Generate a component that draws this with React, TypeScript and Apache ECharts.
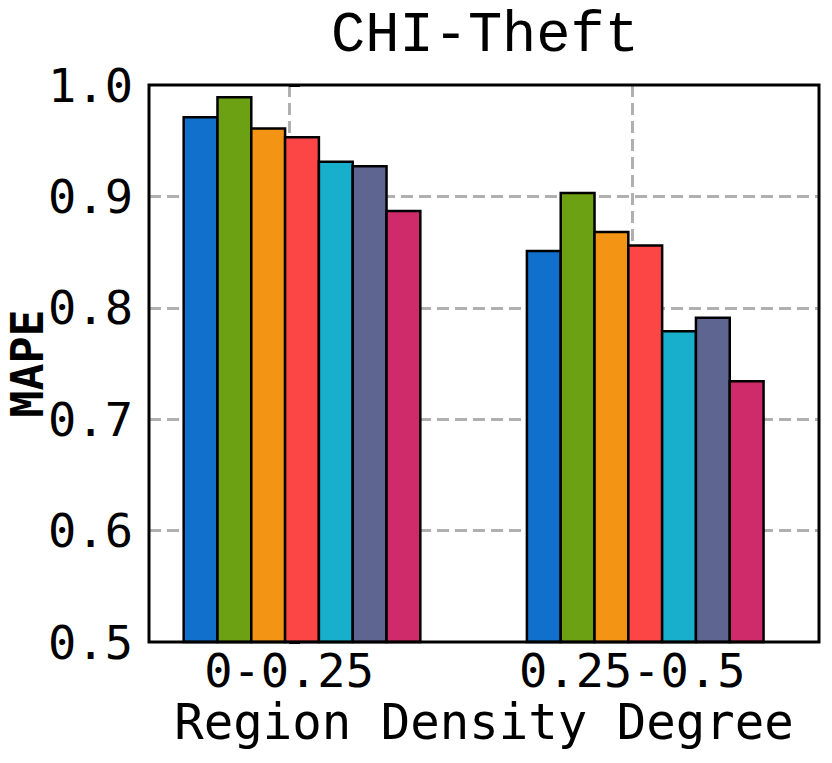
import React, { useEffect, useRef } from "react";
import * as echarts from "echarts";

const title = "CHI-Theft";
const categories = ["0-0.25", "0.25-0.5"];
const yTicks = [0.5, 0.6, 0.7, 0.8, 0.9, 1.0];
const seriesColors = ["#1170cc", "#6ba112", "#f39414", "#fc4646", "#17afcc", "#5e6590", "#cf2b6a"];
const s1 = [0.971, 0.851];
const s2 = [0.989, 0.903];
const s3 = [0.961, 0.868];
const s4 = [0.953, 0.856];
const s5 = [0.931, 0.779];
const s6 = [0.927, 0.791];
const s7 = [0.887, 0.734];
const seriesValues = [s1, s2, s3, s4, s5, s6, s7];

const BAR_W = 0.0985;
const GROUP_START = -0.307;
const Y_MIN = yTicks[0];
const Y_MAX = yTicks[yTicks.length - 1];

export default function App() {
  const ref = useRef<HTMLDivElement>(null);
  useEffect(() => {
    if (!ref.current) return;
    document.body.style.margin = "0";
    const chart = echarts.init(ref.current, null, { renderer: "svg" });
    const monoFont = "DejaVu Sans Mono";
    const series: any[] = seriesValues.map((vals, si) => ({
      type: "custom",
      name: "s" + (si + 1),
      data: vals.map((v, ci) => [ci, v]),
      encode: { x: 0, y: 1 },
      z: 5,
      renderItem: (params: any, api: any) => {
        const ci = api.value(0);
        const v = api.value(1);
        const x0 = ci + GROUP_START + si * BAR_W;
        const p1 = api.coord([x0, v]);
        const p2 = api.coord([x0 + BAR_W, Y_MIN]);
        return {
          type: "rect",
          shape: { x: p1[0], y: p1[1], width: p2[0] - p1[0], height: p2[1] - p1[1] },
          style: { fill: seriesColors[si], stroke: "#000", lineWidth: 2.5 },
        };
      },
    }));
    chart.setOption({
      animation: false,
      backgroundColor: "#fff",
      title: {
        text: title,
        left: 480,
        textAlign: "center",
        top: 2,
        textStyle: { fontFamily: "Liberation Mono", fontSize: 57, fontWeight: "normal", color: "#000" },
      },
      grid: {
        left: 149,
        right: 13,
        top: 85,
        bottom: 121,
        containLabel: false,
        outerBoundsMode: "none",
        show: true,
        borderColor: "#000",
        borderWidth: 3,
        backgroundColor: "transparent",
        z: 10,
      },
      xAxis: {
        type: "value",
        min: -0.408,
        max: 1.544,
        name: "Region Density Degree",
        nameLocation: "middle",
        nameGap: 56,
        nameMoveOverlap: false,
        nameTextStyle: { fontFamily: monoFont, fontSize: 49, color: "#000", lineHeight: 49 },
        axisLine: { show: false },
        axisTick: { show: false, customValues: [0, 1] },
        axisLabel: {
          customValues: [0, 1],
          formatter: (v: number) => categories[Math.round(v)] ?? "",
          fontFamily: monoFont,
          fontSize: 47,
          lineHeight: 46,
          color: "#000",
          margin: 5,
        },
        splitLine: {
          show: true,
          lineStyle: { color: "#b0b0b0", width: 3, type: [12, 6] },
        },
      },
      yAxis: {
        type: "value",
        min: Y_MIN,
        max: Y_MAX,
        interval: 0.1,
        name: "MAPE",
        nameLocation: "middle",
        nameGap: 101,
        nameMoveOverlap: false,
        nameRotate: 90,
        nameTextStyle: { fontFamily: monoFont, fontSize: 45, fontWeight: "bold", color: "#000", lineHeight: 42 },
        axisLine: { show: false },
        axisTick: { show: true, inside: true, length: 11, lineStyle: { color: "#000", width: 3 } },
        axisLabel: {
          formatter: (v: number) => v.toFixed(1),
          fontFamily: monoFont,
          fontSize: 47,
          color: "#000",
          margin: 16,
        },
        splitLine: {
          show: true,
          showMinLine: false,
          showMaxLine: false,
          lineStyle: { color: "#b0b0b0", width: 3, type: [12, 6] },
        },
      },
      series,
    });
    return () => chart.dispose();
  }, []);
  return <div ref={ref} style={{ width: 832, height: 763 }} />;
}
